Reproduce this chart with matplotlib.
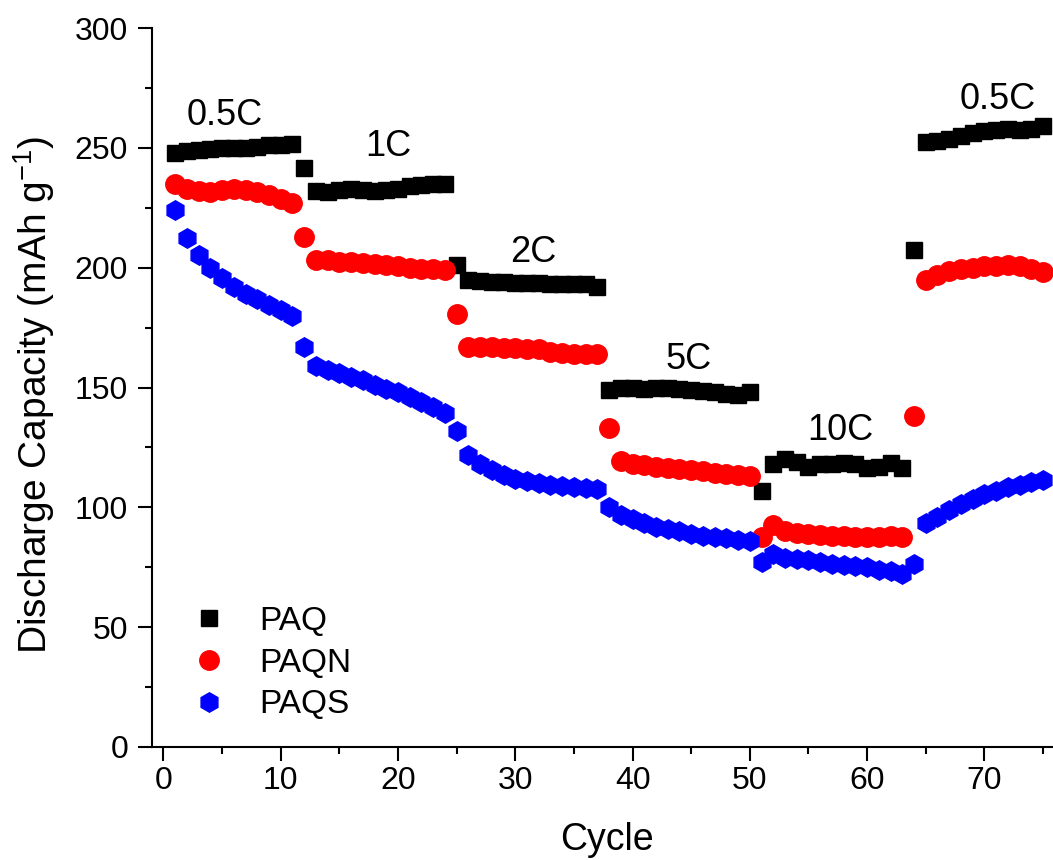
import numpy as np
import matplotlib
matplotlib.use('Agg')
import matplotlib.pyplot as plt
from matplotlib.ticker import MultipleLocator

plt.rcParams['font.family'] = ['Liberation Sans', 'DejaVu Sans']
plt.rcParams['mathtext.default'] = 'regular'

# Data
cycles = np.arange(1, 76)

paq = [248, 248.5, 249, 249.5, 250, 250, 250, 250.5, 251, 251, 251.5,
       241.5,
       232, 231.5, 232.5, 233, 232.5, 232, 232.5, 233, 234, 234.5, 235, 235,
       201,
       195, 194.5, 194, 194, 193.5, 193.5, 193.5, 193, 193, 193, 193, 192,
       149, 150, 150, 149.5, 150, 150, 149.5, 149, 148.5, 148, 147.5, 147, 148,
       107,
       118, 120, 119, 117, 118, 118, 118.5, 118, 116.5, 117, 118.5, 116.5,
       207.5,
       252.5, 253, 253.5, 255, 256, 257, 257.5, 258, 257.5, 258, 259]

paqn = [235, 233, 232, 231.5, 232.5, 233, 232.5, 231.5, 230.5, 228.5, 227,
        213,
        203, 203, 202.5, 202.5, 202, 201.5, 201, 200.5, 200, 199.5, 199.5, 199,
        180.5,
        167, 167, 167, 166.5, 166.5, 166, 166, 165, 164.5, 164, 164, 164,
        133,
        119.5, 118, 117.5, 117, 116.5, 116, 115.5, 115, 114.5, 114, 113.5, 113,
        87.5, 92.5,
        90, 89.5, 89, 88.5, 88, 88, 87.5, 87.5, 87.5, 88, 87.5,
        138,
        195, 197, 198.5, 199.5, 200, 200.5, 200.5, 201, 200.5, 199.5, 198]

paqs = [224, 212.5, 205.5, 200, 195.5, 192, 189, 187, 184.5, 182.5, 180,
        167,
        159, 157.5, 156, 154.5, 153, 151, 149.5, 148, 146, 144, 142, 139.5,
        132,
        122, 118, 115.5, 113.5, 112, 111, 110, 109.5, 109, 108.5, 108, 107.5,
        100, 97, 95, 93.5, 92, 91, 90, 89, 88, 87.5, 87, 86.5, 86,
        77, 80.5,
        79, 78.5, 78, 77, 76.5, 76, 75.5, 75, 74, 73.5, 72,
        76.5,
        93.5, 96, 99, 101.5, 103.5, 105.5, 107, 108.5, 109.5, 110.5, 111.5]

rate_labels = ['0.5C', '1C', '2C', '5C', '10C', '0.5C']
rate_x = [5.2, 19.2, 31.5, 44.8, 57.7, 71.1]
rate_y = [263.5, 250.5, 206.5, 161.5, 132, 270]

fig = plt.figure(figsize=(10.53, 8.6), dpi=100)
ax = fig.add_axes([0.1441, 0.1314, 0.8559, 0.836])

ax.plot(cycles, paq, ls='none', marker='s', ms=12, color='black', label='PAQ')
ax.plot(cycles, paqn, ls='none', marker='o', ms=14, color='#ff0000', label='PAQN')
ax.plot(cycles, paqs, ls='none', marker='h', ms=14, color='#0000ff', label='PAQS')

for lab, x, y in zip(rate_labels, rate_x, rate_y):
    ax.text(x, y, lab, fontsize=26, ha='center', va='center')

ax.set_xlim(-1, 75.85)
ax.set_ylim(0, 300)
ax.xaxis.set_major_locator(MultipleLocator(10))
ax.xaxis.set_minor_locator(MultipleLocator(5))
ax.yaxis.set_major_locator(MultipleLocator(50))
ax.yaxis.set_minor_locator(MultipleLocator(25))

ax.spines['top'].set_visible(False)
ax.spines['right'].set_visible(False)
for s in ['left', 'bottom']:
    ax.spines[s].set_linewidth(1.5)

ax.tick_params(which='major', direction='out', length=10, width=1.5, labelsize=23, pad=4)
ax.tick_params(which='minor', direction='out', length=5, width=1.5)
ax.tick_params(axis='y', which='major', pad=7)

ax.set_xlabel('Cycle', fontsize=27)
ax.set_ylabel('Discharge Capacity (mAh g$^{-1}$)', fontsize=28)
ax.xaxis.set_label_coords(0.505, -0.104)
ax.yaxis.set_label_coords(-0.105, 0.49)

ax.legend(loc='upper left', bbox_to_anchor=(0.045, 0.196), frameon=False,
          fontsize=24, handlelength=1, handletextpad=1.0, labelspacing=0.32,
          borderpad=0, borderaxespad=0, numpoints=1)

fig.savefig('out.png', dpi=100)
